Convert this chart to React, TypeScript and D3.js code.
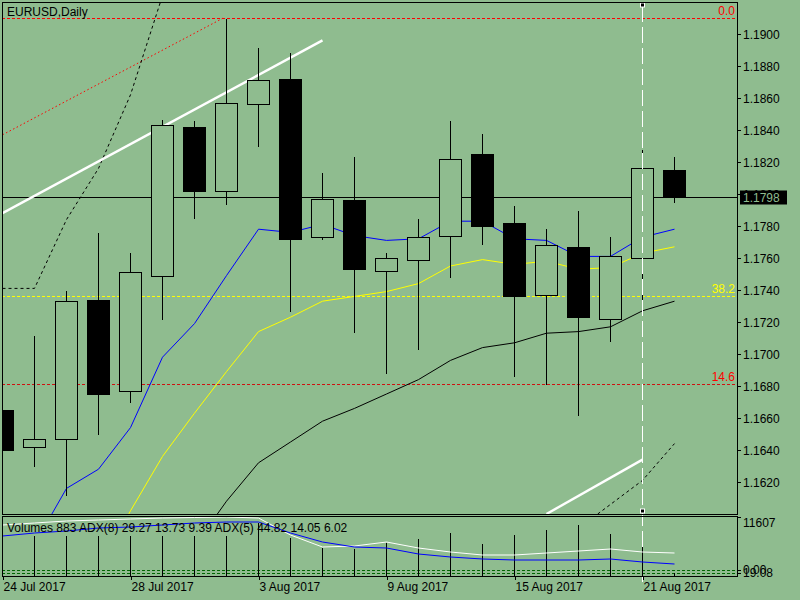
import React, { useEffect, useRef } from 'react';
import * as d3 from 'd3';

// EURUSD daily bars, 24 Jul - 22 Aug 2017
const dates = [
  '24 Jul', '25 Jul', '26 Jul', '27 Jul', '28 Jul', '31 Jul', '1 Aug', '2 Aug', '3 Aug', '4 Aug', '7 Aug',
  '8 Aug', '9 Aug', '10 Aug', '11 Aug', '14 Aug', '15 Aug', '16 Aug', '17 Aug', '18 Aug', '21 Aug', '22 Aug',
];
const opens = [1.1665, 1.1642, 1.1647, 1.1734, 1.1677, 1.1749, 1.1842, 1.1802, 1.1856, 1.1872, 1.1773,
  1.1796, 1.1752, 1.1759, 1.1774, 1.1825, 1.1782, 1.1737, 1.1767, 1.1722, 1.1760, 1.1815];
const highs = [1.1670, 1.1712, 1.1740, 1.1776, 1.1764, 1.1847, 1.1846, 1.1910, 1.1892, 1.1889, 1.1814,
  1.1824, 1.1764, 1.1785, 1.1846, 1.1838, 1.1793, 1.1779, 1.1790, 1.1774, 1.1828, 1.1824];
const lows = [1.1635, 1.1630, 1.1612, 1.1650, 1.1670, 1.1722, 1.1785, 1.1794, 1.1830, 1.1727, 1.1772,
  1.1714, 1.1688, 1.1703, 1.1748, 1.1769, 1.1686, 1.1681, 1.1662, 1.1708, 1.1730, 1.1795];
const closes = [1.1640, 1.1647, 1.1733, 1.1675, 1.1751, 1.1843, 1.1802, 1.1857, 1.1871, 1.1772, 1.1797,
  1.1753, 1.1760, 1.1773, 1.1822, 1.1780, 1.1736, 1.1768, 1.1723, 1.1761, 1.1816, 1.1798];

// moving averages
const maBlue = [1.1568, 1.1581, 1.1616, 1.1628, 1.1654, 1.1698, 1.1719, 1.1749, 1.1778, 1.1776, 1.1781,
  1.1774, 1.1771, 1.1772, 1.1783, 1.1783, 1.1772, 1.1771, 1.1761, 1.1761, 1.1773, 1.1778];
const maYellow = [null, null, null, 1.1565, 1.1602, 1.1636, 1.1663, 1.1689, 1.1714, 1.1723, 1.1733,
  1.1736, 1.1739, 1.1744, 1.1755, 1.1759, 1.1756, 1.1758, 1.1753, 1.1754, 1.1763, 1.1767];
const maBlack = [null, null, null, null, null, null, 1.1580, 1.1608, 1.1632, 1.1645, 1.1658,
  1.1666, 1.1675, 1.1684, 1.1696, 1.1704, 1.1707, 1.1713, 1.1714, 1.1717, 1.1727, 1.1733];

// drawn objects: [bar index, price]
const dashedUpper: [number, number][] = [[0, 1.1741], [1, 1.1741], [2, 1.1784], [3, 1.1816], [4, 1.1862], [5, 1.1924]];
const dashedLower: [number, number][] = [[18, 1.1591], [19, 1.1606], [20, 1.1621], [21, 1.1644]];
const trendTop: [number, number][] = [[0, 1.1788], [10, 1.1896]];
const trendBottom: [number, number][] = [[17, 1.1600], [20, 1.1634]];
const fibRay: [number, number][] = [[0, 1.1837], [6.9, 1.1910]];
const fibLevels = [
  { label: '0.0', price: 1.1910, color: '#ff0000' },
  { label: '38.2', price: 1.1736, color: '#ffff00' },
  { label: '14.6', price: 1.1681, color: '#d01010' },
];
const bidPrice = 1.1798;
const cursorBar = 20;

const priceTicks = [1.162, 1.164, 1.166, 1.168, 1.170, 1.172, 1.174, 1.176, 1.178, 1.180, 1.182, 1.184, 1.186, 1.188, 1.190];
const dateTicks = [0, 4, 8, 12, 16, 20];
const dateTickLabels = ['24 Jul 2017', '28 Jul 2017', '3 Aug 2017', '9 Aug 2017', '15 Aug 2017', '21 Aug 2017'];

// indicator window
const volumes = [8066, 8066, 8066, 8066, 8066, 8066, 8066, 8066, 10623, 7672, 5705,
  5508, 6689, 7476, 8656, 6492, 8263, 9246, 10230, 8459, 5902, 883];
const adxWhite = [51, 53, 55, 56, 57, 58, 58.5, 59, 58, 41, 29, 30, 34, 28, 24, 21, 21, 23, 25, 27, 24, 23];
const adxBlue = [40, 43, 45, 48, 49, 51, 53, 54, 54, 43, 34, 29, 28, 22, 19, 17, 16, 16, 16, 17, 14, 12];
const adxLevels = [6, 3];
const volMax = 11607;
const legendText = 'Volumes 883 ADX(8) 29.27 13.73 9.39 ADX(5) 44.82 14.05 6.02';

const FONT = "'Liberation Sans', Arial, sans-serif";
const BG = '#8fbc8f';

const App: React.FC = () => {
  const ref = useRef<SVGSVGElement>(null);

  useEffect(() => {
    if (!ref.current) return;
    const svg = d3.select(ref.current);
    svg.selectAll('*').remove();

    const L = 2, R = 737, T = 2, MB = 514, ST = 517, SB = 576;

    const x = d3.scaleLinear().domain([0, 1]).range([2.5, 34.5]);
    const y = d3.scaleLinear().domain([1.16, 1.192]).range([MB, T]);
    const yVol = d3.scaleLinear().domain([0, volMax]).range([SB, ST]);
    const yAdx = d3.scaleLinear().domain([0, 59]).range([SB, ST]);
    const snap = (v: number) => Math.round(v) + 0.5;

    svg.append('rect').attr('width', 800).attr('height', 600).attr('fill', BG);

    const defs = svg.append('defs');
    defs.append('clipPath').attr('id', 'mainClip')
      .append('rect').attr('x', L).attr('y', T).attr('width', R - L).attr('height', MB - T);
    defs.append('clipPath').attr('id', 'subClip')
      .append('rect').attr('x', L).attr('y', ST).attr('width', R - L).attr('height', SB - ST);

    const main = svg.append('g').attr('clip-path', 'url(#mainClip)');
    const pt = d3.line<[number, number]>().x(d => x(d[0])).y(d => y(d[1]));

    // fibo levels
    fibLevels.forEach(f => {
      main.append('line')
        .attr('x1', L).attr('x2', R).attr('y1', snap(y(f.price))).attr('y2', snap(y(f.price)))
        .attr('stroke', f.color).attr('stroke-width', 1).attr('stroke-dasharray', '3,2')
        .attr('shape-rendering', 'crispEdges');
    });
    main.append('path').attr('d', pt(fibRay)).attr('fill', 'none')
      .attr('stroke', '#ff0000').attr('stroke-width', 1).attr('stroke-dasharray', '1.5,2.5');

    // dashed channel lines
    [dashedUpper, dashedLower].forEach(seg => {
      main.append('path').attr('d', pt(seg)).attr('fill', 'none')
        .attr('stroke', '#000').attr('stroke-width', 1).attr('stroke-dasharray', '3,3');
    });

    // bid line
    main.append('line').attr('x1', L).attr('x2', R)
      .attr('y1', snap(y(bidPrice))).attr('y2', snap(y(bidPrice)))
      .attr('stroke', '#000').attr('stroke-width', 1).attr('shape-rendering', 'crispEdges');

    // white trend lines
    [trendTop, trendBottom].forEach(seg => {
      main.append('path').attr('d', pt(seg)).attr('fill', 'none')
        .attr('stroke', '#fff').attr('stroke-width', 2.4);
    });

    // vertical cursor line (behind candles)
    svg.append('line')
      .attr('x1', x(cursorBar)).attr('x2', x(cursorBar)).attr('y1', 6).attr('y2', 582)
      .attr('stroke', '#fff').attr('stroke-width', 1).attr('stroke-dasharray', '16,5')
      .attr('shape-rendering', 'crispEdges');

    // moving averages
    const maLine = d3.line<number | null>()
      .defined(d => d != null)
      .x((_, i) => x(i))
      .y(d => y(d as number));
    [[maBlack, '#000'], [maYellow, '#ffff00'], [maBlue, '#0000ff']].forEach(([data, color]) => {
      main.append('path').attr('d', maLine(data as (number | null)[])).attr('fill', 'none')
        .attr('stroke', color as string).attr('stroke-width', 1);
    });

    // candles
    const half = 11;
    dates.forEach((_, i) => {
      const cx = x(i);
      const o = opens[i], c = closes[i];
      const top = snap(y(Math.max(o, c)));
      const bot = snap(y(Math.min(o, c)));
      const g = main.append('g').attr('shape-rendering', 'crispEdges');
      g.append('line').attr('x1', cx).attr('x2', cx)
        .attr('y1', snap(y(highs[i]))).attr('y2', snap(y(lows[i])))
        .attr('stroke', '#000').attr('stroke-width', 1);
      g.append('rect')
        .attr('x', cx - half).attr('y', top)
        .attr('width', half * 2).attr('height', Math.max(1, bot - top))
        .attr('fill', c >= o ? BG : '#000')
        .attr('stroke', '#000').attr('stroke-width', 1);
    });

    // cursor markers
    [5, 511].forEach(my => {
      svg.append('rect').attr('x', x(cursorBar) - 2).attr('y', my - 2).attr('width', 4).attr('height', 4)
        .attr('fill', '#000').attr('stroke', '#fff').attr('stroke-width', 1);
    });

    // indicator window
    const sub = svg.append('g').attr('clip-path', 'url(#subClip)');
    adxLevels.forEach(v => {
      sub.append('line').attr('x1', L).attr('x2', R)
        .attr('y1', snap(yAdx(v))).attr('y2', snap(yAdx(v)))
        .attr('stroke', '#006400').attr('stroke-width', 1).attr('stroke-dasharray', '3,2')
        .attr('shape-rendering', 'crispEdges');
    });
    volumes.forEach((v, i) => {
      sub.append('line').attr('x1', x(i)).attr('x2', x(i))
        .attr('y1', SB).attr('y2', snap(yVol(v)))
        .attr('stroke', '#000').attr('stroke-width', 1).attr('shape-rendering', 'crispEdges');
    });
    const adxLine = d3.line<number>().x((_, i) => x(i)).y(d => yAdx(d));
    sub.append('path').attr('d', adxLine(adxWhite)).attr('fill', 'none').attr('stroke', '#fff').attr('stroke-width', 1);
    sub.append('path').attr('d', adxLine(adxBlue)).attr('fill', 'none').attr('stroke', '#0000ff').attr('stroke-width', 1);

    // frames
    const frame = svg.append('g').attr('fill', 'none').attr('stroke', '#000').attr('stroke-width', 1)
      .attr('shape-rendering', 'crispEdges');
    frame.append('rect').attr('x', L + 0.5).attr('y', T + 0.5).attr('width', R - L).attr('height', MB - T);
    frame.append('rect').attr('x', L + 0.5).attr('y', ST - 0.5).attr('width', R - L).attr('height', SB - ST + 1);

    // price axis
    const axisG = svg.append('g').attr('font-family', FONT).attr('font-size', 12);
    priceTicks.forEach(p => {
      const py = snap(y(p));
      axisG.append('line').attr('x1', R).attr('x2', R + 4).attr('y1', py).attr('y2', py)
        .attr('stroke', '#000').attr('shape-rendering', 'crispEdges');
      axisG.append('text').attr('x', R + 6).attr('y', py).attr('dy', '0.35em').text(d3.format('.4f')(p));
    });
    // bid label
    const by = snap(y(bidPrice));
    axisG.append('rect').attr('x', R + 3).attr('y', by - 7).attr('width', 47).attr('height', 14).attr('fill', '#000');
    axisG.append('text').attr('x', R + 6).attr('y', by).attr('dy', '0.35em').attr('fill', BG)
      .text(d3.format('.4f')(bidPrice));

    // fibo labels
    fibLevels.forEach(f => {
      axisG.append('text').attr('x', R - 2).attr('y', y(f.price) - 3).attr('text-anchor', 'end')
        .attr('fill', f.color === '#d01010' ? '#ff0000' : f.color).text(f.label);
    });

    // indicator scale
    axisG.append('line').attr('x1', R).attr('x2', R + 4).attr('y1', ST + 0.5).attr('y2', ST + 0.5)
      .attr('stroke', '#000').attr('shape-rendering', 'crispEdges');
    axisG.append('text').attr('x', R + 6).attr('y', ST + 6).attr('dy', '0.35em').text(String(volMax));
    adxLevels.forEach(v => {
      axisG.append('line').attr('x1', R).attr('x2', R + 4).attr('y1', snap(yAdx(v))).attr('y2', snap(yAdx(v)))
        .attr('stroke', '#000').attr('shape-rendering', 'crispEdges');
    });
    axisG.append('text').attr('x', R + 6).attr('y', yAdx(3)).attr('dy', '0.35em').text('19.08');
    axisG.append('text').attr('x', R + 6).attr('y', yAdx(6)).attr('dy', '0.35em').text('0.00');

    // date axis
    dateTicks.forEach((di, k) => {
      const dx = Math.round(x(di)) + 0.5;
      axisG.append('line').attr('x1', dx).attr('x2', dx).attr('y1', SB).attr('y2', SB + 4)
        .attr('stroke', '#000').attr('shape-rendering', 'crispEdges');
      axisG.append('text').attr('x', Math.max(dx, 3)).attr('y', 591).text(dateTickLabels[k]);
    });

    // titles
    axisG.append('text').attr('x', 7).attr('y', 16).text('EURUSD,Daily');
    axisG.append('text').attr('x', 7).attr('y', 532).text(legendText);
  }, []);

  return (
    <svg
      ref={ref}
      width={800}
      height={600}
      style={{ position: 'absolute', left: 0, top: 0, display: 'block' }}
    />
  );
};

export default App;
